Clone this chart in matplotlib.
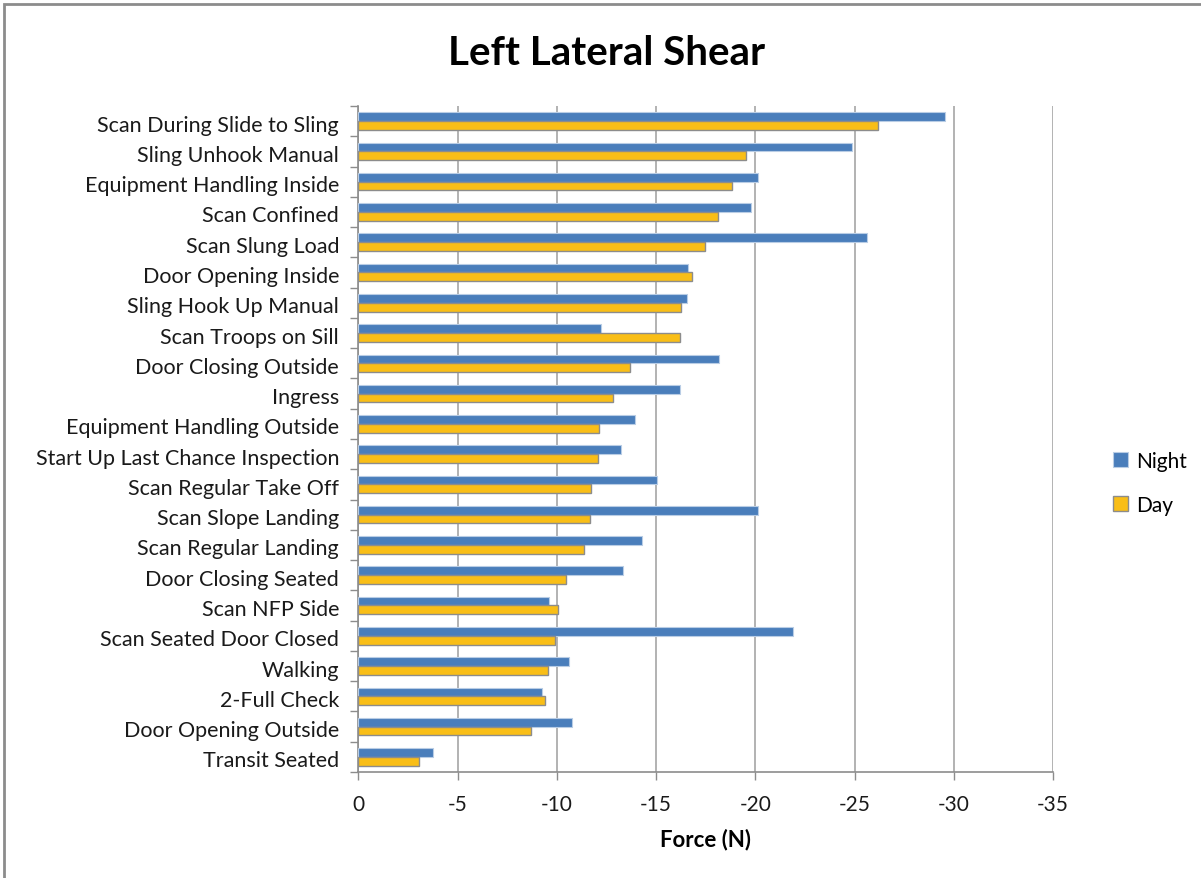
import numpy as np
import matplotlib.pyplot as plt
from matplotlib.patches import Rectangle

# Left lateral shear per task, night vs day (N)
tasks = ["Scan During Slide to Sling", "Sling Unhook Manual", "Equipment Handling Inside",
         "Scan Confined", "Scan Slung Load", "Door Opening Inside", "Sling Hook Up Manual",
         "Scan Troops on Sill", "Door Closing Outside", "Ingress", "Equipment Handling Outside",
         "Start Up Last Chance Inspection", "Scan Regular Take Off", "Scan Slope Landing",
         "Scan Regular Landing", "Door Closing Seated", "Scan NFP Side", "Scan Seated Door Closed",
         "Walking", "2-Full Check", "Door Opening Outside", "Transit Seated"]
night = [-29.55, -24.86, -20.12, -19.79, -25.64, -16.58, -16.53, -12.2, -18.19, -16.18, -13.92,
         -13.22, -15.02, -20.12, -14.29, -13.34, -9.61, -21.91, -10.6, -9.24, -10.74, -3.76]
day = [-26.16, -19.52, -18.8, -18.13, -17.45, -16.8, -16.25, -16.2, -13.67, -12.84, -12.12,
       -12.07, -11.7, -11.66, -11.35, -10.48, -10.04, -9.88, -9.54, -9.38, -8.68, -3.07]
xticks = [0, -5, -10, -15, -20, -25, -30, -35]

plt.rcParams['font.family'] = ['Lato', 'DejaVu Sans']

fig = plt.figure(figsize=(12.01, 8.79), dpi=100)
ax = fig.add_axes([0.2985, 0.1206, 0.5783, 0.7577])

y = np.arange(len(tasks))
h = 0.29
ax.barh(y - h / 2, night, height=h, color="#4A7EBB", edgecolor="#B9CDE5", linewidth=0.8,
        label="Night", zorder=3)
ax.barh(y + h / 2, day, height=h, color="#F9BE17", edgecolor="#8C8C8C", linewidth=1.0,
        label="Day", zorder=3)

ax.set_xlim(0, -35)
ax.set_ylim(len(tasks) - 0.5, -0.5)
ax.set_xticks(xticks)
ax.set_xticklabels([str(v) for v in xticks])
ax.set_yticks(y + 0.05)
ax.set_yticklabels(tasks)
ax.set_yticks(np.arange(len(tasks) + 1) - 0.5, minor=True)
ax.tick_params(axis="y", which="major", length=0, labelsize=15.5, pad=14, labelcolor="#1a1a1a")
ax.tick_params(axis="y", which="minor", length=6, color="#8C8C8C", width=1)
ax.tick_params(axis="x", length=6, color="#8C8C8C", width=1, labelsize=15, pad=10,
               labelcolor="#1a1a1a")

ax.grid(axis="x", color="#A6A6A6", linewidth=1.2, zorder=0)
for s in ["top", "right"]:
    ax.spines[s].set_visible(False)
for s in ["left", "bottom"]:
    ax.spines[s].set_color("#8C8C8C")
    ax.spines[s].set_linewidth(1.2)

ax.set_xlabel("Force (N)", fontsize=16, fontweight="bold", labelpad=10)
fig.suptitle("Left Lateral Shear", x=0.505, y=0.96, fontsize=29, fontweight="bold")

ax.legend(loc="center left", bbox_to_anchor=(1.06, 0.434), frameon=False, fontsize=15,
          handlelength=0.7, handleheight=0.7, labelspacing=1.15, handletextpad=0.4)

# chart frame
fig.patches.append(Rectangle((0.003, -0.01), 1.02, 1.004, transform=fig.transFigure,
                             fill=False, edgecolor="#8C8C8C", linewidth=2))

fig.savefig("out.png", dpi=100)
